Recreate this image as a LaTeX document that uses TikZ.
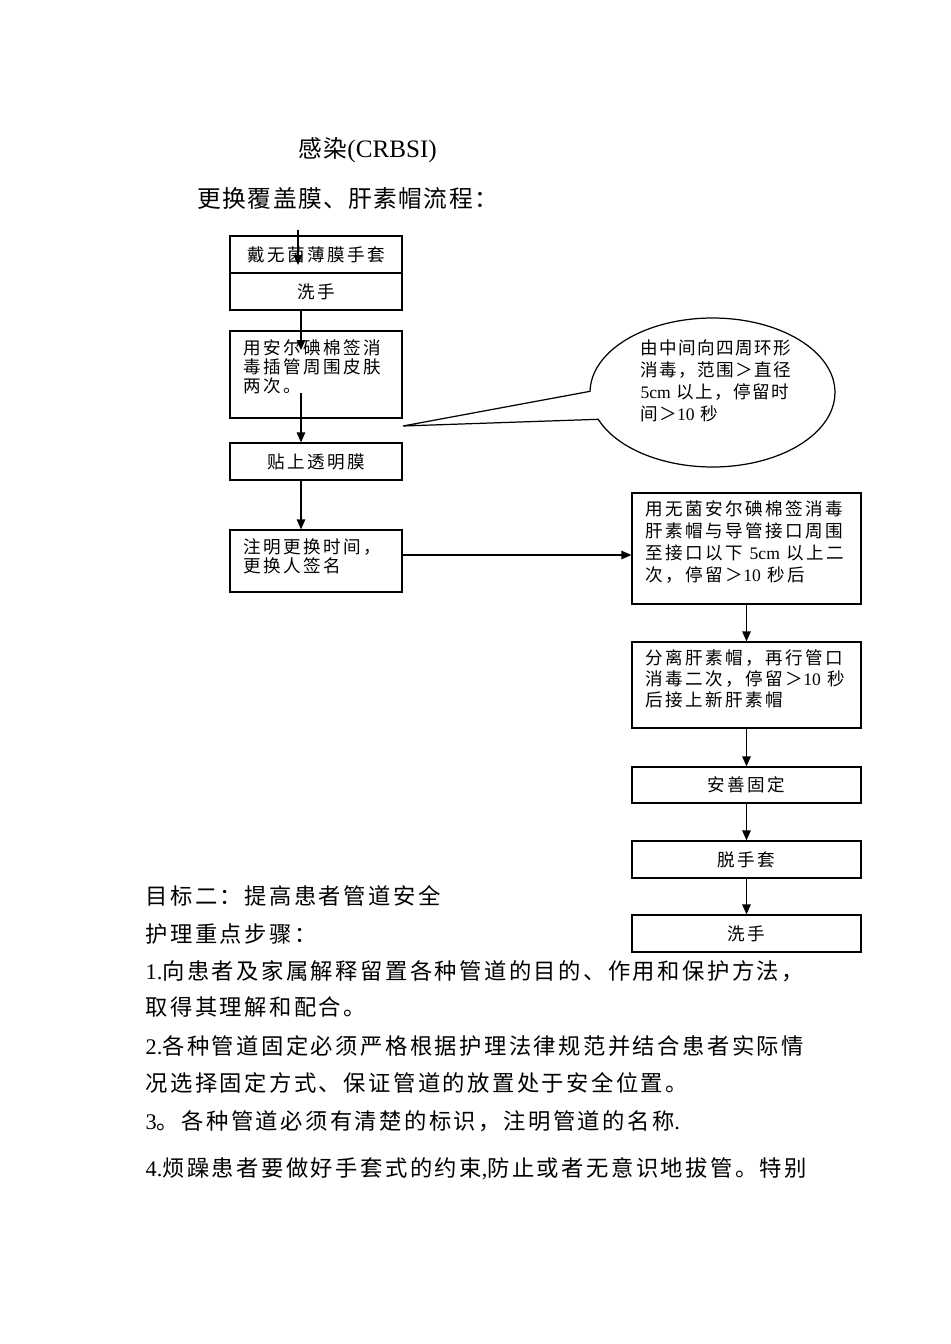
\documentclass[tikz,border=0pt]{standalone}
\usepackage{fontspec}
\setmainfont{Liberation Serif}
\newfontfamily\zhtitle[LetterSpace=6]{Noto Sans CJK SC}
\newfontfamily\zhbody[LetterSpace=11]{Noto Sans CJK SC}
\newfontfamily\zhbox[LetterSpace=14]{Noto Sans CJK SC}
\newfontfamily\zhbubble[LetterSpace=8]{Noto Sans CJK SC}
\newcommand{\lat}[1]{{\rmfamily #1}}
\usetikzlibrary{arrows.meta,shapes.callouts}

\begin{document}
\begin{tikzpicture}[x=0.02cm,y=-0.02cm,line width=0.7pt,
    box/.style={draw,inner sep=0pt,minimum height=0.74cm,font=\zhbox\fontsize{10}{11}\selectfont},
    leftbox/.style={box,minimum width=3.44cm},
    rightbox/.style={box,minimum width=4.58cm},
    boxtext/.style={anchor=north west,inner sep=0pt,align=left},
    textline/.style={anchor=base west,inner sep=0pt,font=\zhbody\fontsize{12.7}{14}\selectfont},
    arr/.style={-{Triangle[length=0.2cm,width=0.17cm]}}]

        \useasboundingbox (0,0) rectangle (950,1344);

        % Headings
        \node[anchor=base west,inner sep=0pt,font=\zhtitle\fontsize{13.5}{15}\selectfont] (title) at (298,158) {感染{\rmfamily\fontsize{14.3}{15}\selectfont(CRBSI)}};
        \node[anchor=base west,inner sep=0pt,font=\zhtitle\fontsize{13.5}{15}\selectfont] (subtitle) at (197,208) {更换覆盖膜、肝素帽流程：};

        % Left column of steps
        \node[leftbox] (gloves) at (316,254.5) {戴无菌薄膜手套};
        \node[leftbox] (wash) at (316,291.5) {洗手};
        \node[leftbox,minimum height=1.74cm] (disinfect) at (316,374.5) {};
        \node[boxtext,font=\zhbox\fontsize{10}{10.8}\selectfont] (disinfectText) at (243,339) {用安尔碘棉签消\\毒插管周围皮肤\\两次。};
        \node[leftbox] (film) at (316,461.5) {贴上透明膜};
        \node[leftbox,minimum height=1.24cm] (note) at (316,561) {};
        \node[boxtext,font=\zhbox\fontsize{10}{10.8}\selectfont] (noteText) at (243,538) {注明更换时间，\\更换人签名};

        % Right column of steps
        \node[rightbox,minimum height=2.22cm] (capClean) at (746.5,548.5) {};
        \node[boxtext,font=\zhbox\fontsize{10}{12.5}\selectfont] (capCleanText) at (645,500) {用无菌安尔碘棉签消毒\\肝素帽与导管接口周围\\至接口以下 \lat{5cm} 以上二\\次，停留＞\lat{10} 秒后};
        \node[rightbox,minimum height=1.72cm] (capSwap) at (746.5,685) {};
        \node[boxtext,font=\zhbox\fontsize{10}{12}\selectfont] (capSwapText) at (645,649) {分离肝素帽，再行管口\\消毒二次，停留＞\lat{10} 秒\\后接上新肝素帽};
        \node[rightbox,minimum height=0.72cm] (fix) at (746.5,785) {安善固定};
        \node[rightbox] (unglove) at (746.5,859.5) {脱手套};
        \node[rightbox] (washEnd) at (746.5,933.5) {洗手};

        % Speech bubble
        \coordinate (bubbleTip) at (403,426);
        \node[ellipse callout,draw,minimum width=4.9cm,minimum height=2.98cm,
              callout absolute pointer={(bubbleTip)},callout pointer arc=22] (bubble) at (712.5,392.5) {};
        \node[boxtext,font=\zhbubble\fontsize{10}{12.5}\selectfont] (bubbleText) at (640,339) {由中间向四周环形\\消毒，范围＞直径\\\lat{5cm} 以上，停留时\\间＞\lat{10} 秒};

        % Arrows
        \coordinate (start) at (298,230);
        \coordinate (startEnd) at (298,265);
        \coordinate (spine) at (301,0);
        \coordinate (spineTip) at (301,350);
        \coordinate (spineFrom) at (301,393);
        \coordinate (across) at (0,555);
        \draw[arr] (start) -- (startEnd);
        \draw[arr] (wash.south -| spine) -- (spineTip);
        \draw[arr] (spineFrom) -- (film.north -| spine);
        \draw[arr] (film.south -| spine) -- (note.north -| spine);
        \draw[arr] (note.east |- across) -- (capClean.west |- across);
        \draw[arr] (capClean.south) -- (capSwap.north);
        \draw[arr] (capSwap.south) -- (fix.north);
        \draw[arr] (fix.south) -- (unglove.north);
        \draw[arr] (unglove.south) -- (washEnd.north);

        % Body text
        \node[textline] (goal) at (145,904) {目标二：提高患者管道安全};
        \node[textline] (steps) at (145,942) {护理重点步骤：};
        \node[textline] (itemOneA) at (145,979) {\lat{1.}向患者及家属解释留置各种管道的目的、作用和保护方法，};
        \node[textline] (itemOneB) at (145,1015) {取得其理解和配合。};
        \node[textline] (itemTwoA) at (145,1054) {\lat{2.}各种管道固定必须严格根据护理法律规范并结合患者实际情};
        \node[textline] (itemTwoB) at (145,1091) {况选择固定方式、保证管道的放置处于安全位置。};
        \node[textline] (itemThree) at (145,1129) {\lat{3}。各种管道必须有清楚的标识，注明管道的名称\lat{.}};
        \node[textline] (itemFour) at (145,1176) {\lat{4.}烦躁患者要做好手套式的约束\lat{,}防止或者无意识地拔管。特别};

    \end{tikzpicture}
\end{document}
